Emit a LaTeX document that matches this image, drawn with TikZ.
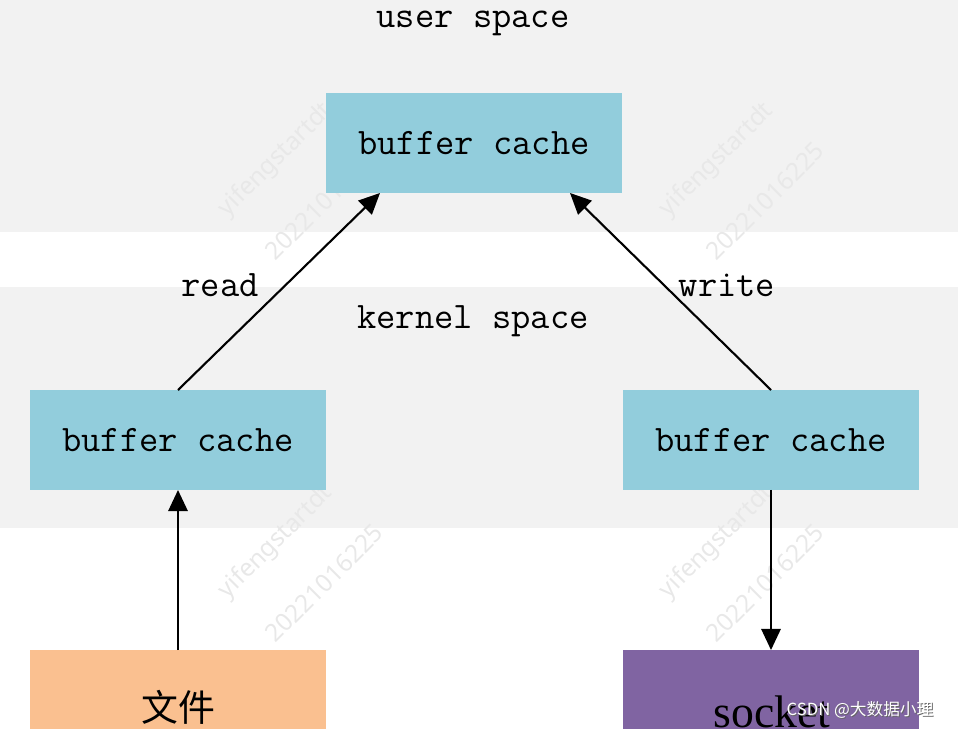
\documentclass[tikz,border=0pt]{standalone}
\usepackage{fontspec}
\setmainfont{Liberation Serif}
\newfontfamily\cjkfont{Noto Sans CJK SC}
\newfontfamily\wmfont{Noto Sans}
\usetikzlibrary{arrows.meta,positioning,calc}
\definecolor{bandgrey}{HTML}{F2F2F2}
\definecolor{cacheblue}{HTML}{92CDDC}
\definecolor{fileorange}{HTML}{FAC090}
\definecolor{sockpurple}{HTML}{8064A2}

\begin{document}
\begin{tikzpicture}[x=0.02cm,y=-0.02cm,
  every node/.style={font=\ttfamily\fontsize{21.3}{24}\selectfont},
  blockbox/.style={minimum width=5.92cm,minimum height=2cm,inner sep=0pt,outer sep=0pt},
  cachebox/.style={blockbox,fill=cacheblue},
  wmark/.style={font=\wmfont\fontsize{14}{16}\selectfont,text=black!9,rotate=45},
  flow/.style={-{Triangle[length=12pt,width=11pt]},line width=1.2pt}]
  \clip (0,0) rectangle (976,729);
  \fill[bandgrey] (0,0) rectangle (958,232);
  \fill[bandgrey] (0,287) rectangle (958,528);

  % faint watermark
  \foreach \wx/\wy in {0/0,441/0,0/382,441/382}{
    \node[wmark] at (276+\wx,160+\wy) {yifengstartdt};
    \node[wmark] at (324+\wx,201+\wy) {20221016225};
  }

  \node (userlbl)   at (473,23)  {user space};
  \node (kernellbl) at (473,321) {kernel space};

  \node[cachebox] (ucache) at (474,143) {buffer cache};
  \node[cachebox] (lcache) at (178,440) {buffer cache};
  \node[cachebox] (rcache) at (771,440) {buffer cache};

  \node[blockbox,fill=fileorange] (file) at (178,700) {};
  \node[blockbox,fill=sockpurple] (sock) at (771,700) {};
  \node[anchor=base,font=\cjkfont\fontsize{21}{24}\selectfont] (filetxt) at (178,721) {文件};
  \node[anchor=base,font=\rmfamily\fontsize{26}{30}\selectfont] (socktxt) at (772,727) {socket};

  \draw[flow] (lcache.north) -- ([xshift=-1.88cm]ucache.south);
  \draw[flow] (rcache.north) -- ([xshift=1.92cm]ucache.south);
  \draw[flow] (file.north) -- (lcache.south);
  \draw[flow] (rcache.south) -- (sock.north);

  \node (readlbl)  at (220,285) {read};
  \node (writelbl) at (727,285) {write};

  \node[font=\cjkfont\fontsize{9.5}{11}\selectfont,text=black!60] (csdnshade) at (861,711) {CSDN @大数据小理};
  \node[font=\cjkfont\fontsize{9.5}{11}\selectfont,text=white] (csdn) at (860,710) {CSDN @大数据小理};
\end{tikzpicture}
\end{document}
